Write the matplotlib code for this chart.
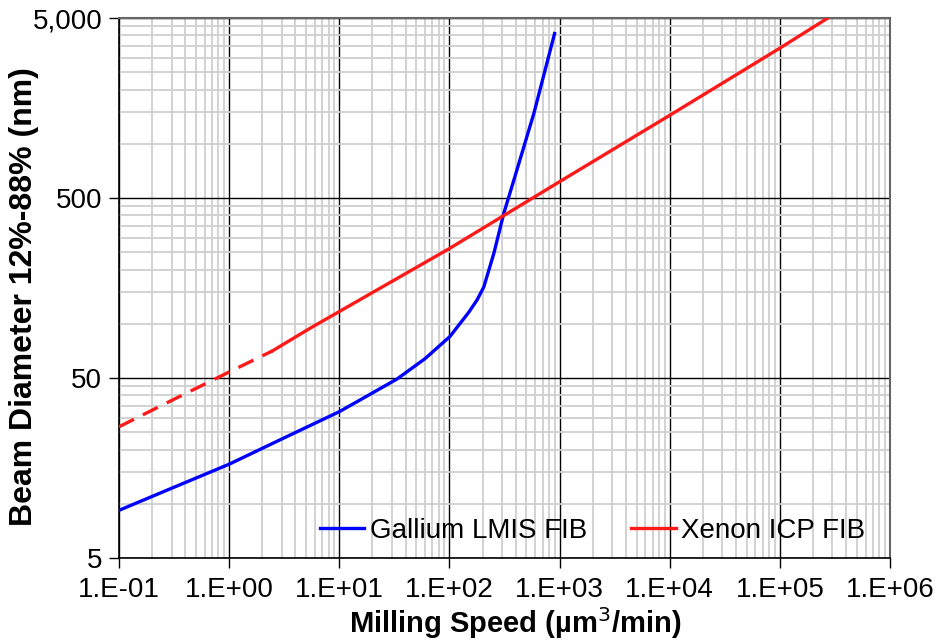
import math
import matplotlib
matplotlib.use('Agg')
import matplotlib.pyplot as plt
from matplotlib.ticker import FixedLocator, FuncFormatter, NullFormatter

# Gallium LMIS FIB
ga_speed = [0.1, 0.3, 1, 3, 10, 15.5, 33.5, 60, 101, 150, 178.6, 205, 253, 312, 385, 585, 901]
ga_diam = [9.2, 12.2, 16.6, 22.9, 32.5, 37.8, 49.4, 64, 85, 116, 136, 160, 246, 412, 630, 1480, 4100]

# Xenon ICP FIB, extrapolated (dashed) part and measured part
xe_speed_dash = [0.1, 0.3, 1, 2.46]
xe_diam_dash = [26.8, 37.5, 54, 70.6]
xe_speed = [2.46, 5.45, 10, 100, 1000, 1e4, 1e5, 2.73e5]
xe_diam = [70.6, 94.6, 117, 262, 616, 1440, 3400, 5000]

x_exps = [-1, 0, 1, 2, 3, 4, 5, 6]
y_major = [5, 50, 500, 5000]
y_labels = ['5', '50', '500', '5,000']

plt.rcParams['font.family'] = ['Liberation Sans', 'DejaVu Sans']

fig = plt.figure(figsize=(9.36, 6.4), dpi=100)
ax = fig.add_axes([119 / 936, 82 / 640, 771 / 936, 540 / 640])

ax.plot(ga_speed, ga_diam, color='#0000ff', lw=2.4, label='Gallium LMIS FIB', zorder=4)
ax.plot(xe_speed_dash, xe_diam_dash, color='#ff1a1a', lw=2.4, ls=(0, (5, 3)), zorder=4)
ax.plot(xe_speed, xe_diam, color='#ff1a1a', lw=2.4, label='Xenon ICP FIB', zorder=4)

ax.set_xscale('log')
ax.set_yscale('log')
ax.set_xlim(1e-1, 1e6)
ax.set_ylim(5, 5000)

# x axis: decades with 2..9 minor grid
ax.xaxis.set_major_locator(FixedLocator([10.0 ** e for e in x_exps]))
ax.xaxis.set_major_formatter(FuncFormatter(lambda v, p: '1.E%+03d' % round(math.log10(v))))
x_minor = [m * 10.0 ** e for e in x_exps[:-1] for m in range(2, 10)]
ax.xaxis.set_minor_locator(FixedLocator(x_minor))
ax.xaxis.set_minor_formatter(NullFormatter())

# y axis: major at 5, 50, 500, 5000; minor at multiples of the lower major
ax.yaxis.set_major_locator(FixedLocator(y_major))
ax.yaxis.set_major_formatter(FuncFormatter(lambda v, p: y_labels[y_major.index(round(v))] if round(v) in y_major else ''))
y_minor = [b * m for b in y_major[:-1] for m in range(2, 10)]
ax.yaxis.set_minor_locator(FixedLocator(y_minor))
ax.yaxis.set_minor_formatter(NullFormatter())

ax.grid(which='minor', color='#cfcfcf', lw=1.3, zorder=0)
ax.grid(which='major', color='black', lw=1.0, zorder=1)
ax.set_axisbelow(True)

ax.tick_params(which='major', direction='out', length=7, width=1, labelsize=20, color='black')
ax.tick_params(which='minor', length=0)
ax.tick_params(axis='x', pad=7)
ax.tick_params(axis='y', pad=5)

for side in ['left', 'bottom']:
    ax.spines[side].set_color('black')
    ax.spines[side].set_linewidth(1.2)
for side in ['top', 'right']:
    ax.spines[side].set_color('#666666')
    ax.spines[side].set_linewidth(1.5)

ax.set_xlabel('Milling Speed (\u00b5m$^3$/min)', fontsize=21, fontweight='bold')
ax.set_ylabel('Beam Diameter 12%-88% (nm)', fontsize=23, fontweight='bold')
ax.xaxis.set_label_coords(0.514, -0.087)
ax.yaxis.set_label_coords(-0.104, 0.485)

leg = ax.legend(loc='center right', bbox_to_anchor=(0.968, 0.05), ncol=2, frameon=False,
                fontsize=20, handlelength=1.6, handletextpad=0.2, columnspacing=1.6,
                borderpad=0, borderaxespad=0)

fig.savefig('out.png', dpi=100)
